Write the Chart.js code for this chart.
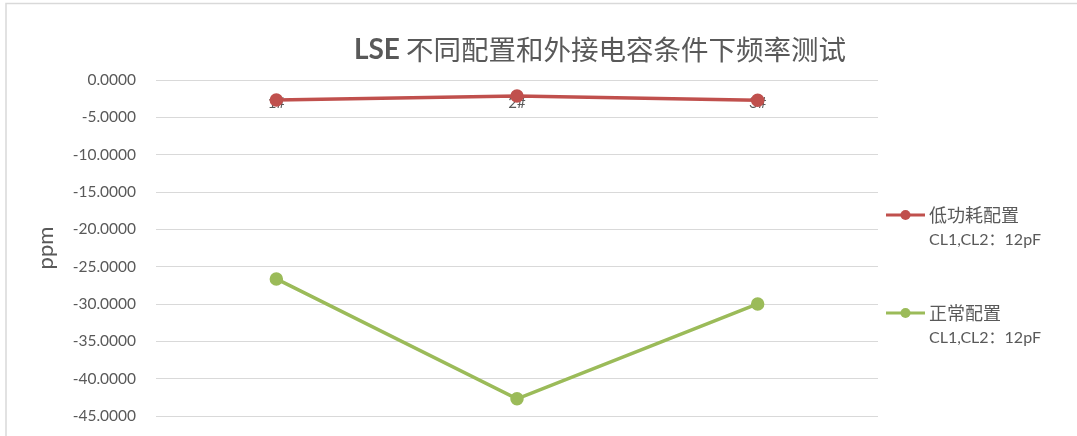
<!DOCTYPE html>
<html>
<head>
<meta charset="utf-8">
<script src="https://cdn.jsdelivr.net/npm/chart.js@4/dist/chart.umd.min.js"></script>
<style>
  body { margin: 0; background: #fff; overflow: hidden; }
  canvas { display: block; }
</style>
</head>
<body>
<canvas id="freq" width="1077" height="436"></canvas>
<script>
const categories = ['1#', '2#', '3#']
const lowPower = [-2.68, -2.14, -2.70]
const normal = [-26.64, -42.70, -29.99]
const seriesNames = ['低功耗配置', '正常配置']
const seriesNotes = ['CL1,CL2：12pF', 'CL1,CL2：12pF']
const yTicks = [0, -5, -10, -15, -20, -25, -30, -35, -40, -45]

const textColor = '#595959'
const latin = 'Lato, "Noto Sans CJK SC", sans-serif'
const cjk = '"Noto Sans CJK SC", sans-serif'

// outer frame and split-weight title
const framePlugin = {
    id: 'frame',
    beforeDraw(chart) {
        const ctx = chart.ctx
        ctx.save()
        ctx.strokeStyle = '#d9d9d9'
        ctx.lineWidth = 1.5
        ctx.strokeRect(6, 3.5, 1200, 1200)

        const bold = 'LSE'
        const rest = ' 不同配置和外接电容条件下频率测试'
        ctx.fillStyle = textColor
        ctx.textBaseline = 'middle'
        ctx.font = 'bold 28px ' + latin
        const w1 = ctx.measureText(bold).width
        ctx.font = '27.5px ' + cjk
        const w2 = ctx.measureText(rest).width
        let x = 600 - (w1 + w2) / 2
        ctx.font = 'bold 28px ' + latin
        ctx.fillText(bold, x, 50)
        ctx.font = '27.5px ' + cjk
        ctx.fillText(rest, x + w1, 50)
        ctx.restore()
    }
}

// two-line legend on the right
const sideLegend = {
    id: 'sideLegend',
    afterDraw(chart) {
        const ctx = chart.ctx
        const left = chart.chartArea.right + 8
        ctx.save()
        chart.data.datasets.forEach((ds, i) => {
            const y = 215 + i * 98
            ctx.strokeStyle = ds.borderColor
            ctx.lineWidth = 3
            ctx.beginPath()
            ctx.moveTo(left, y)
            ctx.lineTo(left + 39, y)
            ctx.stroke()
            ctx.fillStyle = ds.borderColor
            ctx.beginPath()
            ctx.arc(left + 19.5, y, 5, 0, Math.PI * 2)
            ctx.fill()
            ctx.fillStyle = textColor
            ctx.textBaseline = 'middle'
            ctx.font = '18px ' + cjk
            ctx.fillText(seriesNames[i], left + 43, y)
            ctx.font = '16px ' + latin
            ctx.fillText(seriesNotes[i], left + 43, y + 25)
        })
        ctx.restore()
    }
}

const freqChart = document.getElementById('freq').getContext('2d')
const freq = new Chart(freqChart, {
    type: 'line',
    data: {
        labels: categories,
        datasets: [{
            label: seriesNames[0],
            data: lowPower,
            borderColor: '#C0504D',
            backgroundColor: '#C0504D',
            borderWidth: 3.5,
            pointRadius: 5,
            pointHoverRadius: 5
        }, {
            label: seriesNames[1],
            data: normal,
            borderColor: '#9BBB59',
            backgroundColor: '#9BBB59',
            borderWidth: 3.5,
            pointRadius: 5,
            pointHoverRadius: 5
        }]
    },
    options: {
        responsive: false,
        animation: false,
        layout: {
            padding: { left: 33, right: 199, top: 80, bottom: 20 }
        },
        scales: {
            x: {
                position: { y: 0 },
                offset: true,
                afterFit(scale) {
                    // category labels sit on the zero line, keep them out of the layout
                    scale.height = 0
                },
                grid: { display: false, drawTicks: false },
                border: { display: false },
                ticks: {
                    padding: 14,
                    color: textColor,
                    font: { family: latin, size: 15 }
                }
            },
            y: {
                min: -45,
                max: 0,
                afterBuildTicks(scale) {
                    scale.ticks = yTicks.map(v => ({ value: v }))
                },
                afterFit(scale) {
                    scale.width = 123
                },
                // invisible tick marks give the gap between labels and plot
                grid: { color: '#d9d9d9', lineWidth: 1, drawTicks: true, tickLength: 20, tickColor: 'rgba(0,0,0,0)' },
                border: { display: false },
                ticks: {
                    padding: 0,
                    color: textColor,
                    font: { family: latin, size: 15.5 },
                    callback: v => v.toFixed(4)
                },
                title: {
                    display: true,
                    text: 'ppm',
                    color: textColor,
                    padding: 0,
                    font: { family: latin, size: 22 }
                }
            }
        },
        plugins: {
            legend: { display: false },
            title: { display: false },
            tooltip: { enabled: false }
        }
    },
    plugins: [framePlugin, sideLegend]
})
</script>
</body>
</html>
